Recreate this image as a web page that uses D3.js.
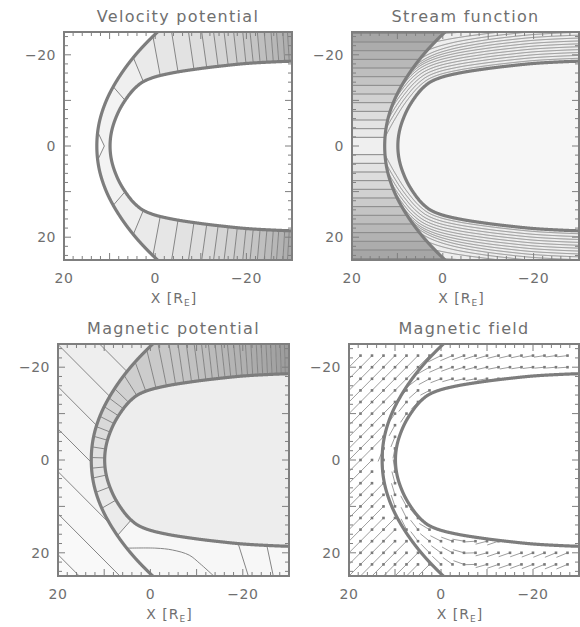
<!DOCTYPE html>
<html>
<head>
<meta charset="utf-8">
<script src="https://cdn.jsdelivr.net/npm/d3@7"></script>
<style>
body { margin: 0; background: #fff; }
text { font-family: "DejaVu Sans", sans-serif; fill: #6f6f6f; }
</style>
</head>
<body>
<script>
var width = 580, height = 627;

// boundaries, X and Y in R_E, half plane Y >= 0 (mirrored for Y < 0)
var shockY  = [0, 5, 10, 15, 20, 25, 30, 35, 40, 45, 50];
var shockX  = [12.8, 12.3, 10.7, 8.0, 4.3, -0.5, -6.3, -13.2, -21.1, -30.1, -40.2];
var mpauseY = [0, 2, 4, 6, 8, 10, 12, 13, 14, 15, 16, 17, 17.6, 18.1, 18.4, 18.6, 18.8];
var mpauseX = [9.9, 9.77, 9.37, 8.7, 7.8, 6.6, 5.1, 4.1, 2.8, 0.5, -3.6, -10.0, -15.0, -20.0, -25.0, -30.0, -40.0];

// velocity potential contours: X where they leave the shock (or the frame edge), X on the magnetopause
var vpOuterX = [9.2, 4.8, 0.5, -3.6, -7.3, -10.2, -12.8, -15.1, -17.2, -19.2, -20.8, -22.4, -23.9, -25.4, -26.6, -28.0, -29.0];
var vpInnerX = [6.6, 2.6, -1.1, -5.0, -8.5, -11.3, -13.8, -16.0, -18.0, -19.9, -21.5, -23.0, -24.5, -25.9, -27.1, -28.4, -29.4];
var vpNoseTipX = 11.15, vpNoseHalfY = 3.1;

// stream function levels (upstream Y of each streamline)
var streamLevels = [1.9, 3.8, 5.7, 7.6, 9.5, 11.4, 13.3, 15.2, 17.1, 19.0, 20.9, 22.8, 24.7];
var streamSqueeze = 3.0, streamBend = 5;

// magnetic potential: upstream contours Y = c - X
var mpotUpC = [-14.0, -4.9, 4.2, 13.3, 22.5, 31.6, 40.4];
// sheath contours, foot on the magnetopause: by Y near the nose, by X along the upper flank
var mpotNoseY = [12.9, 8.6, 5.75, 3.2, 1.45, -0.4, -2.3, -4.2, -6.0, -7.8, -9.5, -11.0, -12.4];
var mpotTailX = [3.0, 1.0, -1.2, -3.4, -5.4, -7.2, -8.9, -10.5, -12.0, -13.4, -14.8, -16.1, -17.4, -18.6, -19.8, -21.0, -22.1, -23.2, -24.3, -25.3, -26.3, -27.3, -28.3, -29.2];
var mpotCurveX = [4.9, -1.2, -4.8, -8.4, -10.7, -13.6];
var mpotCurveY = [19.0, 19.0, 19.4, 20.5, 22.3, 24.9];
var mpotTailLineX1 = [-19.0, -25.2], mpotTailLineX2 = [-21.2, -26.6];

// magnetic field arrows grid
var bGridX = [17.5, 15, 12.5, 10, 7.5, 5, 2.5, 0, -2.5, -5, -7.5, -10, -12.5, -15, -17.5, -20, -22.5, -25, -27.5];
var bGridY = [-22.5, -20, -17.5, -15, -12.5, -10, -7.5, -5, -2.5, 0, 2.5, 5, 7.5, 10, 12.5, 15, 17.5, 20, 22.5];
var bUpstream = [-1, -1], bUpLen = 3.5, bSheathLen = 2.6;

var xTicks = [20, 0, -20], yTicks = [-20, 0, 20];

var svg = d3.select("body").append("svg")
    .attr("width", width)
    .attr("height", height);
var defs = svg.append("defs");

function sampleCurve(xs, ys, n) {
  var pts = [];
  for (var i = xs.length - 1; i > 0; i--) pts.push([xs[i] * 10, -ys[i] * 10]);
  for (i = 0; i < xs.length; i++) pts.push([xs[i] * 10, ys[i] * 10]);
  var node = svg.append("path")
      .attr("d", d3.line().curve(d3.curveCatmullRom.alpha(0.5))(pts)).node();
  var L = node.getTotalLength(), out = [];
  for (i = 0; i <= n; i++) {
    var q = node.getPointAtLength(L * i / n);
    out.push([q.x / 10, q.y / 10]);
  }
  d3.select(node).remove();
  return out;
}

var shockFull = sampleCurve(shockX, shockY, 1600);
var mpFull = sampleCurve(mpauseX, mpauseY, 1600);
var shockPos = shockFull.filter(function(p) { return p[1] >= 0; });
var mpPos = mpFull.filter(function(p) { return p[1] >= 0; });

var mpTan = mpPos.map(function(p, j) {
  var a = mpPos[Math.max(j - 1, 0)], b = mpPos[Math.min(j + 1, mpPos.length - 1)];
  var dx = b[0] - a[0], dy = b[1] - a[1], l = Math.hypot(dx, dy);
  return [dx / l, dy / l];
});
var mpNorm = mpTan.map(function(t) { return [t[1], -t[0]]; });

var byY = d3.bisector(function(p) { return p[1]; }).left;
var byNegX = d3.bisector(function(p) { return -p[0]; }).left;

function xAtY(branch, yy) {
  var a = Math.abs(yy), i = byY(branch, a);
  if (i <= 0) return branch[0][0];
  if (i >= branch.length) return null;
  var p0 = branch[i - 1], p1 = branch[i], t = (a - p0[1]) / ((p1[1] - p0[1]) || 1);
  return p0[0] + t * (p1[0] - p0[0]);
}
function yAtX(branch, xx) {
  var i = byNegX(branch, -xx);
  if (i <= 0) return branch[0][1];
  if (i >= branch.length) return branch[branch.length - 1][1];
  var p0 = branch[i - 1], p1 = branch[i], t = (xx - p0[0]) / ((p1[0] - p0[0]) || 1);
  return p0[1] + t * (p1[1] - p0[1]);
}
function isUpstream(px, py) {
  var xs = xAtY(shockPos, py);
  return xs === null ? px > -41 : px > xs;
}
function insideMp(px, py) {
  var xm = xAtY(mpPos, py);
  return xm === null ? false : px < xm;
}
function nearestMp(px, py) {
  var a = Math.abs(py), best = 0, bd = 1e9;
  mpPos.forEach(function(p, j) {
    var d = (p[0] - px) * (p[0] - px) + (p[1] - a) * (p[1] - a);
    if (d < bd) { bd = d; best = j; }
  });
  return best;
}
function ext(a, b, t) { return [a[0] + (a[0] - b[0]) * t, a[1] + (a[1] - b[1]) * t]; }
function mirror(pts) { return pts.map(function(p) { return [p[0], -p[1]]; }); }
function unit(v) { var l = Math.hypot(v[0], v[1]) || 1; return [v[0] / l, v[1] / l]; }

// march along the magnetopause normal until the shock (or the frame)
function normalLine(j, sg) {
  var M = mpPos[j], n = mpNorm[j], d = 0, q = M;
  while (d < 40) {
    d += 0.05;
    q = [M[0] + d * n[0], M[1] + d * n[1]];
    if (isUpstream(q[0], q[1]) || q[1] > 26 || q[0] < -31) break;
  }
  return [[M[0], sg * M[1]], [q[0], sg * q[1]]];
}

var shockRegion = shockFull.concat([[-200, 50], [-200, -50]]);

var panels = [
  {title: "Velocity potential", x0: 64, x1: 292, y0: 32, y1: 260, draw: drawVelPot},
  {title: "Stream function", x0: 352, x1: 579, y0: 32, y1: 260, draw: drawStream},
  {title: "Magnetic potential", x0: 58, x1: 289, y0: 344, y1: 576, draw: drawMagPot},
  {title: "Magnetic field", x0: 349, x1: 579, y0: 344, y1: 576, draw: drawMagField}
];

panels.forEach(function(p, i) {
  var x = d3.scaleLinear().domain([20, -30]).range([p.x0, p.x1]);
  var y = d3.scaleLinear().domain([-25, 25]).range([p.y0, p.y1]);
  var line = d3.line().x(function(d) { return x(d[0]); }).y(function(d) { return y(d[1]); });

  defs.append("clipPath").attr("id", "frame" + i).append("rect")
      .attr("x", p.x0).attr("y", p.y0).attr("width", p.x1 - p.x0).attr("height", p.y1 - p.y0);
  defs.append("clipPath").attr("id", "sheath" + i).append("path")
      .attr("clip-rule", "evenodd")
      .attr("d", line(shockRegion) + "Z" + line(mpFull) + "Z");
  defs.append("clipPath").attr("id", "upstream" + i).append("path")
      .attr("clip-rule", "evenodd")
      .attr("d", line([[40, -60], [-60, -60], [-60, 60], [40, 60]]) + "Z" + line(shockRegion) + "Z");

  var g = svg.append("g");
  var body = g.append("g").attr("clip-path", "url(#frame" + i + ")");
  p.draw(body, x, y, line, i);

  body.append("path").attr("d", line(shockFull))
      .attr("fill", "none").attr("stroke", "#7d7d7d").attr("stroke-width", 3.2);
  body.append("path").attr("d", line(mpFull))
      .attr("fill", "none").attr("stroke", "#7d7d7d").attr("stroke-width", 3.2);

  // frame and inward ticks on all four sides
  g.append("rect").attr("x", p.x0).attr("y", p.y0)
      .attr("width", p.x1 - p.x0).attr("height", p.y1 - p.y0)
      .attr("fill", "none").attr("stroke", "#7f7f7f").attr("stroke-width", 2);
  var tk = g.append("g").attr("stroke", "#7f7f7f").attr("stroke-width", 1);
  d3.range(20, -31, -2).forEach(function(v) {
    var len = v % 10 === 0 ? 7 : 4;
    tk.append("line").attr("x1", x(v)).attr("x2", x(v)).attr("y1", p.y1).attr("y2", p.y1 - len);
    tk.append("line").attr("x1", x(v)).attr("x2", x(v)).attr("y1", p.y0).attr("y2", p.y0 + len);
  });
  d3.range(-24, 25, 2).forEach(function(v) {
    var len = v % 10 === 0 ? 7 : 4;
    tk.append("line").attr("y1", y(v)).attr("y2", y(v)).attr("x1", p.x0).attr("x2", p.x0 + len);
    tk.append("line").attr("y1", y(v)).attr("y2", y(v)).attr("x1", p.x1).attr("x2", p.x1 - len);
  });

  xTicks.forEach(function(v) {
    g.append("text").attr("x", x(v)).attr("y", p.y1 + 23)
        .attr("text-anchor", "middle").attr("font-size", 14).attr("letter-spacing", 0.5)
        .text(String(v).replace("-", "\u2212"));
  });
  yTicks.forEach(function(v) {
    g.append("text").attr("x", p.x0 - 8).attr("y", y(v)).attr("dy", "0.36em")
        .attr("text-anchor", "end").attr("font-size", 14).attr("letter-spacing", 0.5)
        .text(String(v).replace("-", "\u2212"));
  });
  var xl = g.append("text").attr("x", (p.x0 + p.x1) / 2 - 4).attr("y", p.y1 + 43)
      .attr("text-anchor", "middle").attr("font-size", 14).attr("letter-spacing", 1);
  xl.append("tspan").text("X [R");
  xl.append("tspan").attr("font-size", 9).attr("dy", 3).text("E");
  xl.append("tspan").attr("dy", -3).text("]");
  g.append("text").attr("x", (p.x0 + p.x1) / 2).attr("y", p.y0 - 10)
      .attr("text-anchor", "middle").attr("font-size", 16).attr("letter-spacing", 1.3)
      .text(p.title);
});

function drawVelPot(g, x, y, line, i) {
  var n = vpOuterX.length;
  var shade = d3.scaleLinear().domain([0, n]).range(["#f3f3f3", "#aaaaaa"]);
  var segs = vpOuterX.map(function(ox, k) {
    var inner = [vpInnerX[k], yAtX(mpPos, vpInnerX[k])];
    var outer = ox > xAtY(shockPos, 25) ? [ox, yAtX(shockPos, ox)] : [ox, 25];
    return [inner, outer];
  });
  var sh = g.append("g").attr("clip-path", "url(#sheath" + i + ")");
  sh.append("rect").attr("x", x(20)).attr("y", y(-25)).attr("width", x(-30) - x(20))
      .attr("height", y(25) - y(-25)).attr("fill", shade(0));
  [1, -1].forEach(function(sg) {
    for (var k = 1; k <= n; k++) {
      var a = segs[k - 1], poly;
      var ai = ext(a[0], a[1], 2), ao = ext(a[1], a[0], 2);
      if (k < n) {
        var b = segs[k];
        poly = [ao, ai, ext(b[0], b[1], 2), ext(b[1], b[0], 2)];
      } else {
        poly = [ao, ai, [ai[0] - 60, ai[1]], [ao[0] - 60, ao[1]]];
      }
      sh.append("path").attr("d", line(sg > 0 ? poly : mirror(poly)) + "Z").attr("fill", shade(k));
    }
  });
  var ys = xAtY(shockPos, vpNoseHalfY);
  var nose = [[ys, -vpNoseHalfY], [vpNoseTipX, 0], [ys, vpNoseHalfY]];
  sh.append("path").attr("d", line(nose.concat([[ys + 3, vpNoseHalfY], [ys + 3, -vpNoseHalfY]])) + "Z")
      .attr("fill", "#fafafa");
  var ln = g.append("g").attr("fill", "none").attr("stroke", "#858585").attr("stroke-width", 1);
  segs.forEach(function(s) {
    ln.append("path").attr("d", line(s));
    ln.append("path").attr("d", line(mirror(s)));
  });
  ln.append("path").attr("d", line(nose));
}

function drawStream(g, x, y, line, i) {
  var n = streamLevels.length;
  var shade = d3.scaleLinear().domain([0, n]).range(["#efefef", "#a0a0a0"]);
  var bands = [[-streamLevels[0], streamLevels[0], 0]];
  streamLevels.forEach(function(v, k) {
    var hi = k < n - 1 ? streamLevels[k + 1] : 30;
    bands.push([v, hi, k + 1], [-hi, -v, k + 1]);
  });
  g.selectAll("rect.band").data(bands).enter().append("rect")
      .attr("x", x(20)).attr("width", x(-30) - x(20))
      .attr("y", function(d) { return y(d[0]); })
      .attr("height", function(d) { return y(d[1]) - y(d[0]); })
      .attr("fill", function(d) { return shade(d[2]); });
  g.append("path").attr("d", line(shockRegion) + "Z").attr("fill", "#eeeeee");
  g.append("path").attr("d", line(mpFull) + "Z").attr("fill", "#f6f6f6");

  var ln = g.append("g").attr("fill", "none").attr("stroke", "#858585").attr("stroke-width", 1);
  streamLevels.forEach(function(y0) {
    var xe = xAtY(shockPos, y0);
    var j0 = nearestMp(xe, y0), M = mpPos[j0];
    var dE = Math.hypot(xe - M[0], y0 - M[1]), dInf = y0 / streamSqueeze;
    var pts = [[21, y0], [xe, y0]], s = 0;
    for (var j = j0 + 1; j < mpPos.length; j++) {
      s += Math.hypot(mpPos[j][0] - mpPos[j - 1][0], mpPos[j][1] - mpPos[j - 1][1]);
      var d = dInf + (dE - dInf) * Math.exp(-s / streamBend);
      var q = [mpPos[j][0] + d * mpNorm[j][0], mpPos[j][1] + d * mpNorm[j][1]];
      pts.push(q);
      if (q[0] < -32 || q[1] > 27) break;
    }
    ln.append("path").attr("d", line(pts));
    ln.append("path").attr("d", line(mirror(pts)));
  });
}

function drawMagPot(g, x, y, line, i) {
  var up = d3.scaleLinear().domain([0, mpotUpC.length]).range(["#ececec", "#fbfbfb"]);
  for (var k = 0; k <= mpotUpC.length; k++) {
    var ca = k === 0 ? -80 : mpotUpC[k - 1], cb = k < mpotUpC.length ? mpotUpC[k] : 120;
    g.append("path").attr("d", line([[60, ca - 60], [-60, ca + 60], [-60, cb + 60], [60, cb - 60]]) + "Z")
        .attr("fill", up(k));
  }
  var ul = g.append("g").attr("clip-path", "url(#upstream" + i + ")")
      .attr("fill", "none").attr("stroke", "#858585").attr("stroke-width", 1);
  mpotUpC.forEach(function(c) {
    ul.append("path").attr("d", line([[40, c - 40], [-40, c + 40]]));
  });

  var segs = [];
  mpotNoseY.forEach(function(v) {
    var j = byY(mpPos, Math.abs(v));
    segs.push(normalLine(Math.min(j, mpPos.length - 1), v < 0 ? -1 : 1));
  });
  mpotTailX.forEach(function(v) {
    segs.push(normalLine(Math.min(byNegX(mpPos, -v), mpPos.length - 1), -1));
  });
  var n = segs.length;
  var shade = d3.scaleLinear().domain([1, n]).range(["#ebebeb", "#9c9c9c"]);
  g.append("path").attr("d", line(shockRegion) + "Z").attr("fill", "#f7f7f7");
  var sh = g.append("g").attr("clip-path", "url(#sheath" + i + ")");
  for (k = 1; k <= n; k++) {
    var a = segs[k - 1], poly;
    var ai = ext(a[0], a[1], 0.5), ao = ext(a[1], a[0], 3);
    if (k < n) {
      var b = segs[k];
      poly = [ao, ai, ext(b[0], b[1], 0.5), ext(b[1], b[0], 3)];
    } else {
      poly = [ao, ai, [ai[0] - 60, ai[1]], [ao[0] - 60, ao[1]]];
    }
    sh.append("path").attr("d", line(poly) + "Z").attr("fill", shade(k));
  }
  g.append("path").attr("d", line(mpFull) + "Z").attr("fill", "#ededed");

  var ln = g.append("g").attr("fill", "none").attr("stroke", "#858585").attr("stroke-width", 1);
  segs.forEach(function(s) { ln.append("path").attr("d", line(s)); });
  ln.append("path").attr("d", d3.line().curve(d3.curveCatmullRom)
      .x(function(d) { return x(d[0]); }).y(function(d) { return y(d[1]); })(
      mpotCurveX.map(function(v, k) { return [v, mpotCurveY[k]]; })));
  mpotTailLineX1.forEach(function(v, k) {
    ln.append("path").attr("d", line([[v, yAtX(mpPos, v)], [mpotTailLineX2[k], 25]]));
  });
}

function drawMagField(g, x, y, line, i) {
  var u = unit(bUpstream);
  var arrows = [];
  bGridY.forEach(function(py) {
    bGridX.forEach(function(px) {
      if (insideMp(px, py)) return;
      var v;
      if (isUpstream(px, py)) {
        v = [u[0] * bUpLen, u[1] * bUpLen];
      } else {
        var a = Math.abs(py), j = nearestMp(px, a), M = mpPos[j], t = mpTan[j];
        var d = Math.hypot(px - M[0], a - M[1]), bd = 1e9;
        shockPos.forEach(function(q) {
          var dd = Math.hypot(q[0] - M[0], q[1] - M[1]);
          if (dd < bd) bd = dd;
        });
        var f = Math.min(1, d / bd);
        if (py < 0) {
          var w0 = unit([t[0] + f * 0.7 * u[0], -t[1] + f * 0.7 * u[1]]);
          v = [w0[0] * bSheathLen * (0.8 + 0.4 * f), w0[1] * bSheathLen * (0.8 + 0.4 * f)];
        } else {
          // field along the flank near the nose, turning to the upstream sense down the tail
          var w = Math.max(0, Math.min(1, (-3 - M[0]) / 9));
          w = w * w * (3 - 2 * w);
          var base = unit([t[0], t[1] + 0.7 * f]);
          var tail = unit([t[0], t[1] - 0.45]);
          v = [((1 - w) * base[0] + w * tail[0]) * bSheathLen,
               ((1 - w) * base[1] + w * tail[1]) * bSheathLen];
        }
      }
      arrows.push({p: [px, py], v: v});
    });
  });
  g.selectAll("line.arrow").data(arrows).enter().append("line")
      .attr("x1", function(d) { return x(d.p[0] - d.v[0]); })
      .attr("y1", function(d) { return y(d.p[1] - d.v[1]); })
      .attr("x2", function(d) { return x(d.p[0]); })
      .attr("y2", function(d) { return y(d.p[1]); })
      .attr("stroke", "#929292").attr("stroke-width", 0.9);
  g.selectAll("rect.dot").data(arrows).enter().append("rect")
      .attr("x", function(d) { return x(d.p[0]) - 1.3; })
      .attr("y", function(d) { return y(d.p[1]) - 1.3; })
      .attr("width", 2.6).attr("height", 2.6)
      .attr("fill", "#7a7a7a");
}
</script>
</body>
</html>
